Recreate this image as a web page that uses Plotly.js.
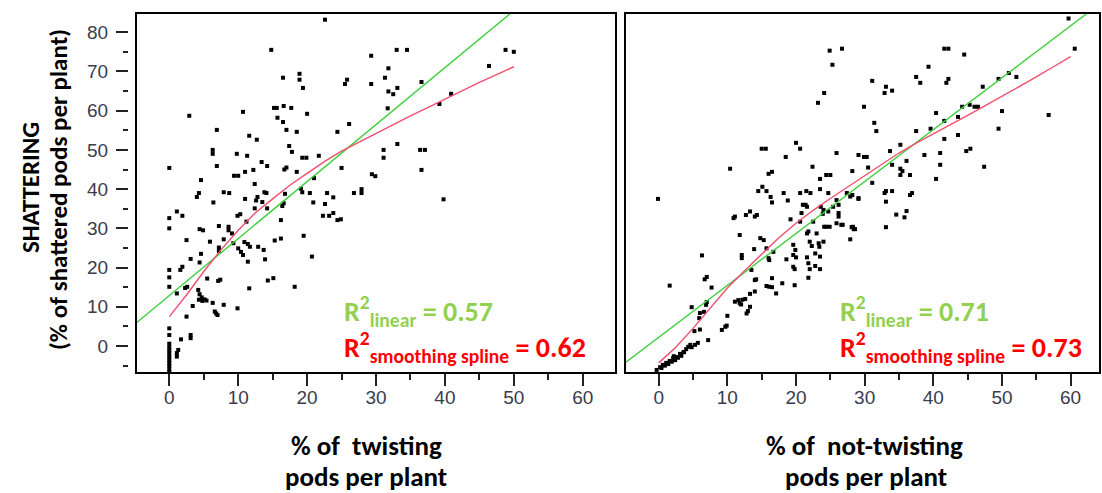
<!DOCTYPE html>
<html><head><meta charset="utf-8">
<script src="https://cdn.plot.ly/plotly-3.0.1.min.js"></script>
<style>html,body{margin:0;padding:0;background:#fff}#chart{width:1102px;height:493px}</style>
</head><body><div id="chart"></div>
<script>
// ---- data: left panel (% twisting pods vs shattering) ----
const twistX = [22.6,14.8,29.3,31.8,16.5,18.9,18.9,19.4,25.8,25.5,29.3,31.3,31.8,15.2,15.6,16.6,17.7,10.7,2.9,15.7,16.5,20.0,31.7,26.1,17.0,18.5,6.9,11.6,12.7,24.4,6.3,6.3,17.4,17.8,9.8,11.3,19.3,19.9,21.7,31.1,31.1,0,6.9,13.4,14.2,16.7,17.0,12.2,11.0,9.4,10.0,4.6,12.4,18.5,25.0,29.4,29.9,21.0,4.0,4.3,7.9,8.7,11.0,12.8,13.8,14.1,16.8,19.3,20.4,22.9,23.8,26.8,27.9,27.9,19.1,
33.0,34.5,33.1,32.5,36.6,40.9,39.2,46.4,48.8,50.0,33.1,36.4,37.1,36.6,39.8,
6.4,20.9,12.6,0,0,1.1,1.9,2.5,4.4,4.9,5.9,7.2,8.6,8.6,9.9,10.3,11.2,12.4,13.5,14.2,16.4,16.6,16.2,22.3,23.2,23.8,24.4,24.9,22.6,7.2,7.2,7.9,9.1,9.3,10.0,10.4,10.9,11.4,10.7,11.4,11.7,12.9,13.7,13.9,15.3,16.2,19.5,20.7,18.2,14.3,15.1,11.6,5.5,7.1,7.4,0,0,0,1.6,1.9,3.1,4.4,4.6,2.6,2.3,4.2,4.4,4.7,4.3,4.8,5.1,5.4,3.4,6.3,6.6,6.8,7.0,7.9,9.9,1.1,2.5,3.1,3.1,1.7,1.1,1.1,1.3,
0,0,0,0,0,0,0,0,0,0,0,0];
const twistY = [83.2,75.5,74.0,70.8,68.4,69.4,67.9,65.8,67.9,66.8,66.8,68.4,64.9,60.7,60.7,61.2,60.7,59.7,58.7,58.2,57.1,59.2,60.6,56.6,55.1,54.6,55.1,53.6,52.6,54.6,50.0,49.0,51.0,49.5,49.0,48.5,48.0,48.0,48.5,50.0,48.0,45.4,45.9,46.9,45.9,45.0,45.5,44.9,44.4,43.4,43.4,42.3,41.3,44.4,45.4,43.8,43.3,42.8,38.0,39.0,39.2,39.0,37.5,38.0,39.2,39.0,38.8,39.2,39.0,39.0,37.9,39.0,40.0,39.0,40.1,
75.5,75.5,65.8,64.2,67.3,64.3,61.7,71.4,75.5,75.0,51.5,50.0,50.0,44.9,37.4,
36.6,36.6,37.1,32.6,30.0,34.3,33.2,27.0,29.8,29.5,26.6,30.6,30.4,29.5,33.2,33.6,31.7,35.1,36.7,35.1,35.7,36.4,32.1,33.2,33.2,33.9,32.1,32.3,36.2,25.1,24.2,27.2,28.7,26.2,24.9,24.0,26.5,26.0,23.2,21.5,25.3,25.3,24.5,22.1,26.9,27.4,28.1,22.8,15.1,16.7,17.3,14.7,17.2,16.6,16.9,19.4,17.5,15.1,19.4,20.2,22.2,21.3,23.5,15.1,14.8,14.3,13.2,12.4,11.8,11.5,11.9,11.6,10.2,11.0,8.8,8.3,7.9,10.5,9.6,13.4,7.5,2.8,2.0,1.7,-1.8,-2.7,-1.0,
4.5,2.8,0.6,-0.3,-1.1,-1.9,-2.7,-3.5,-4.3,-5.1,-5.9,-6.6];

// fitted lines, left panel
const linLX = [-5, 50];
const linLY = [5.6, 85.5];
const splLX = [0,2.5,5,7.5,10,12.5,15,17.5,20,22.5,25,27.5,30,32.5,35,37.5,40,42.5,45,47.5,50];
const splLY = [7.5,13,19,24.5,29.5,34,37.5,41,44,47,49.7,52,54.3,56.5,58.7,60.8,63,65,67.2,69.2,71.2];

// ---- data: right panel (% not-twisting pods vs shattering) ----
const notTwistX = [24.9,26.7,25.3,24.1,23.2,29.9,10.4,-0.1,15.0,15.6,20.0,20.6,18.5,25.9,29.1,29.9,30.3,30.5,22.4,16.0,16.5,24.4,25.0,28.2,23.5,14.5,15.1,15.7,16.3,18.2,20.6,21.5,22.1,23.5,24.7,28.2,
59.7,60.6,41.6,42.2,44.5,39.3,31.1,37.5,38.1,41.9,42.2,33.1,32.9,34.0,47.2,49.5,51.0,52.1,31.4,31.7,40.4,44.2,45.3,46.0,46.5,50.0,56.8,43.6,41.6,37.5,39.6,43.6,41.6,49.5,35.2,33.7,41.0,44.8,45.4,34.0,36.1,38.7,41.0,47.4,35.2,35.5,35.2,36.6,40.4,31.1,32.9,33.1,34.0,36.6,36.9,29.1,
1.6,4.8,6.3,6.7,7.0,7.7,7.0,6.9,6.6,6.0,5.9,5.2,6.0,7.2,3.6,4.0,4.3,4.6,
-0.3,0.2,0.6,1.1,1.6,2.1,2.5,3.1,3.7,0.9,1.4,1.9,2.4,2.8,3.3,4.8,5.3,5.7,0.4,2.2,
9.2,9.7,9.9,10.0,11.1,11.6,11.8,12.2,12.6,12.0,13.3,12.8,13.0,11.8,10.9,11.1,12.1,12.1,12.7,13.3,14.0,14.3,13.9,13.5,14.0,14.2,14.0,13.3,16.5,14.8,15.3,15.7,16.0,16.1,16.7,15.7,16.1,16.5,17.1,16.5,18.0,18.6,18.8,19.2,19.6,19.6,20.0,19.9,19.6,19.8,19.8,20.6,20.8,21.0,21.6,21.8,22.0,22.3,21.6,21.8,22.0,22.8,21.8,22.8,23.5,23.5,23.4,23.0,23.3,24.0,22.5,24.1,24.4,24.9,23.9,24.7,24.0,23.6,21.4,21.6,26.2,26.2,25.9,26.6,26.8,27.9,28.3,28.6,29.1,27.4,27.9,25.9,26.2,25.4,
33.1,34.6,35.8,36.1,33.1,28.1,28.4];
const notTwistY = [75.3,75.8,71.7,64.5,62.0,61.0,45.2,37.5,50.3,50.3,51.8,50.3,48.2,49.2,48.7,48.2,48.2,45.5,45.7,43.9,44.4,43.6,43.6,44.6,42.6,39.5,40.6,39.5,38.0,39.0,39.0,39.5,39.0,40.0,39.0,38.5,
83.5,75.8,75.8,75.8,74.3,71.2,67.6,68.6,67.1,67.1,68.1,66.1,64.5,65.1,66.1,68.1,69.6,68.6,56.9,54.8,59.4,61.0,61.5,61.0,61.0,59.9,58.9,58.4,57.4,54.8,55.4,53.8,52.8,55.4,51.3,49.7,49.2,49.7,50.3,46.2,47.2,48.7,46.2,45.7,45.2,44.6,43.6,43.6,42.6,41.6,39.0,39.5,39.5,38.5,39.0,37.5,
15.4,9.9,23.1,17.0,17.6,14.9,11.2,10.5,8.7,8.4,7.1,3.8,4.2,1.5,-1.6,-0.8,-0.2,0.3,
-6.1,-5.4,-4.8,-4.3,-3.8,-3.1,-2.8,-2.0,-1.5,-5.0,-4.6,-4.0,-3.6,-3.0,-2.5,-0.3,0.3,0.8,-5.6,-2.6,
4.1,4.9,5.2,7.7,11.3,11.7,10.9,11.8,12.0,10.6,10.0,8.3,8.9,28.3,32.6,33.0,23.2,22.4,33.4,34.3,33.0,33.4,24.7,19.4,16.8,17.0,13.9,13.3,36.6,27.5,27.0,24.9,22.4,21.9,24.0,15.3,15.1,15.0,13.4,17.3,16.0,22.1,37.1,32.3,25.8,23.2,22.6,24.5,20.2,19.6,15.5,31.7,33.9,36.0,28.7,29.2,26.6,25.5,22.6,21.1,19.6,20.4,17.4,23.6,22.8,19.6,25.3,28.7,26.2,26.6,31.7,30.4,30.4,30.4,33.7,34.3,34.7,35.5,36.0,35.5,33.9,33.0,31.3,30.9,30.9,27.2,30.4,29.8,37.7,39.0,38.1,37.2,36.0,35.5,
36.8,33.5,32.8,34.4,30.3,30.3,29.8];

// fitted lines, right panel
const linRX = [-5, 63];
const linRY = [-4.4, 85.6];
const splRX = [0,2.5,5,7.5,10,12.5,15,17.5,20,22.5,25,27.5,30,32.5,35,37.5,40,42.5,45,47.5,50,52.5,55,57.5,60];
const splRY = [-4.3,-0.3,4.5,9.8,14.8,19.2,23.5,27.6,31.3,34.6,37.6,40.5,43.3,46.3,49.2,51.7,54.0,56.4,58.8,61.2,63.6,66.1,68.6,71.2,73.8];

const xTickVals = [0,10,20,30,40,50,60];
const yTickVals = [0,10,20,30,40,50,60,70,80];

const W = 1102, H = 493;
const px = x => x / W, py = y => 1 - y / H;

const GREEN_LINE = '#3fd03f', RED_LINE = '#f04f6e';
const mk = {symbol:'square', size:4, color:'#000', line:{width:0}};

const traces = [
  {type:'scatter', mode:'markers', x:twistX, y:twistY, marker:mk, xaxis:'x', yaxis:'y', hoverinfo:'skip'},
  {type:'scatter', mode:'lines', x:linLX, y:linLY, line:{color:GREEN_LINE, width:1.4}, xaxis:'x', yaxis:'y'},
  {type:'scatter', mode:'lines', x:splLX, y:splLY, line:{color:RED_LINE, width:1.4}, xaxis:'x', yaxis:'y'},
  {type:'scatter', mode:'markers', x:notTwistX, y:notTwistY, marker:mk, xaxis:'x2', yaxis:'y2', hoverinfo:'skip'},
  {type:'scatter', mode:'lines', x:linRX, y:linRY, line:{color:GREEN_LINE, width:1.4}, xaxis:'x2', yaxis:'y2'},
  {type:'scatter', mode:'lines', x:splRX, y:splRY, line:{color:RED_LINE, width:1.4}, xaxis:'x2', yaxis:'y2'}
];

const tickFont = {family:'"Liberation Sans", Arial, sans-serif', size:19, color:'#3b3b4f'};
const yDom = [py(373), py(13)];
const yRange = [-6.88, 84.9];

const xAxisBase = {
  tickmode:'array', tickvals:xTickVals, ticks:'outside', ticklen:12, tickwidth:2, tickcolor:'#222',
  minor:{dtick:5, tick0:0, ticks:'outside', ticklen:6, tickwidth:2, tickcolor:'#222'},
  showgrid:false, zeroline:false, showline:false, tickfont:tickFont, ticklabelstandoff:-5, fixedrange:true
};

const titleFont = {family:'Carlito, Calibri, Lato, sans-serif', size:27, color:'#000', weight:'bold'};
const yTitleFont = {family:'Carlito, Calibri, Lato, sans-serif', size:25, color:'#000', weight:'bold'};
const rFont = (c) => ({family:'Carlito, Calibri, Lato, sans-serif', size:28, color:c, weight:'bold'});

const ann = (text, x, y, font, opts={}) => Object.assign({text, x:px(x), y:py(y), xref:'paper', yref:'paper', showarrow:false, font, xanchor:'center', yanchor:'middle'}, opts);

const layout = {
  width:W, height:H, margin:{l:0,r:0,t:0,b:0}, paper_bgcolor:'#fff', plot_bgcolor:'#fff', showlegend:false,
  xaxis: Object.assign({}, xAxisBase, {domain:[px(136), px(616)], range:[-4.83, 64.83], anchor:'y'}),
  yaxis: {domain:yDom, range:yRange, anchor:'free', position:px(128), side:'left',
    tickmode:'array', tickvals:yTickVals, ticks:'outside', ticklen:12, tickwidth:2, tickcolor:'#222',
    minor:{dtick:5, tick0:0, ticks:'outside', ticklen:5, tickwidth:2, tickcolor:'#222'},
    showgrid:false, zeroline:false, showline:false, tickfont:tickFont, ticklabelstandoff:4, fixedrange:true},
  xaxis2: Object.assign({}, xAxisBase, {domain:[px(625), px(1100)], range:[-4.91, 64.28], anchor:'y2'}),
  yaxis2: {domain:yDom, range:yRange, anchor:'x2', showticklabels:false, ticks:'', showgrid:false, zeroline:false, showline:false, fixedrange:true},
  shapes: [
    {type:'rect', xref:'x domain', yref:'y domain', x0:0, x1:1, y0:0, y1:1, line:{color:'#000', width:2}},
    {type:'rect', xref:'x2 domain', yref:'y2 domain', x0:0, x1:1, y0:0, y1:1, line:{color:'#000', width:2}}
  ],
  annotations: [
    ann('% of  twisting', 366, 445, titleFont),
    ann('pods per plant', 366, 476, titleFont),
    ann('% of  not-twisting', 864, 445, titleFont),
    ann('pods per plant', 866, 476, titleFont),
    ann('SHATTERING', 31, 188, yTitleFont, {textangle:-90}),
    ann('(% of shattered pods per plant)', 58, 190, yTitleFont, {textangle:-90}),
    ann('R<sup>2</sup><sub>linear</sub> = 0.57', 342, 311, rFont('#92d050'), {xanchor:'left'}),
    ann('R<sup>2</sup><sub>smoothing spline</sub> = 0.62', 342, 347, rFont('#ff0000'), {xanchor:'left'}),
    ann('R<sup>2</sup><sub>linear</sub> = 0.71', 838, 311, rFont('#92d050'), {xanchor:'left'}),
    ann('R<sup>2</sup><sub>smoothing spline</sub> = 0.73', 838, 347, rFont('#ff0000'), {xanchor:'left'})
  ]
};

Plotly.newPlot('chart', traces, layout, {staticPlot:true, displayModeBar:false});
</script></body></html>
